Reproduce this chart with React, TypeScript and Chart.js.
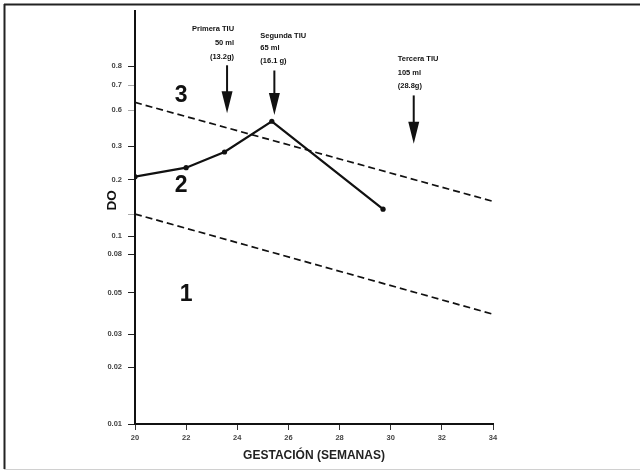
import React, { useEffect, useRef } from "react";
import { Chart, registerables } from "chart.js";

Chart.register(...registerables);

// ---- Data ----
const gestationWeeks = [20, 22, 23.5, 25.35, 29.7];
const doValues = [0.207, 0.231, 0.28, 0.408, 0.139];

const upperLimitWeeks = [20, 34];
const upperLimitDO = [0.514, 0.153];
const lowerLimitWeeks = [20, 34];
const lowerLimitDO = [0.131, 0.0384];

const xTickValues = [20, 22, 24, 26, 28, 30, 32, 34];
const xTickLabels = ["20", "22", "24", "26", "28", "30", "32", "34"];

const yTickValues = [0.01, 0.02, 0.03, 0.05, 0.08, 0.1, 0.13, 0.2, 0.3, 0.468, 0.634, 0.8];
const yTickLabels = ["0.01", "0.02", "0.03", "0.05", "0.08", "0.1", "", "0.2", "0.3", "0.6", "0.7", "0.8"];
const yLightTicks = [0.13, 0.468, 0.634];

const arrowWeeks = [23.6, 25.45, 30.9];
const arrowTopDO = [0.81, 0.76, 0.56];
const arrowTipDO = [0.45, 0.44, 0.31];
const arrowTexts = [
  ["Primera TIU", "50 ml", "(13.2g)"],
  ["Segunda TIU", "65 ml", "(16.1 g)"],
  ["Tercera TIU", "105 ml", "(28.8g)"],
];

const zoneLabels = ["3", "2", "1"];
const zoneWeeks = [21.8, 21.8, 22.0];
const zoneDO = [0.56, 0.185, 0.049];

const xTitle = "GESTACIÓN (SEMANAS)";
const yTitle = "DO";

// ---- Styles (not data) ----
const FONT = "'Liberation Sans', Arial, sans-serif";
const arrowTextAlign: CanvasTextAlign[] = ["right", "left", "left"];
const arrowTextDx = [7, -14, -16];
const arrowTextLastDy = [-8, -10, -9];
const arrowTextSpacing = [14, 12.5, 13.5];

const annotationsPlugin = {
  id: "annotations",
  afterDraw(chart: any) {
    const { ctx, scales, chartArea } = chart;
    const xs = scales.x;
    const ys = scales.y;
    ctx.save();

    // frame
    ctx.strokeStyle = "#222";
    ctx.lineWidth = 2;
    ctx.beginPath();
    ctx.moveTo(4, 4.5);
    ctx.lineTo(640, 4.5);
    ctx.moveTo(4.5, 4);
    ctx.lineTo(4.5, 469);
    ctx.stroke();
    ctx.strokeStyle = "#d0d0d0";
    ctx.lineWidth = 1;
    ctx.beginPath();
    ctx.moveTo(4, 469.5);
    ctx.lineTo(640, 469.5);
    ctx.stroke();

    // arrows
    ctx.fillStyle = "#111";
    ctx.strokeStyle = "#111";
    arrowWeeks.forEach((w, i) => {
      const x = xs.getPixelForValue(w);
      const yTop = ys.getPixelForValue(arrowTopDO[i]);
      const yTip = ys.getPixelForValue(arrowTipDO[i]);
      const headH = 22;
      ctx.lineWidth = 2;
      ctx.beginPath();
      ctx.moveTo(x, yTop);
      ctx.lineTo(x, yTip - headH + 2);
      ctx.stroke();
      ctx.beginPath();
      ctx.moveTo(x - 5.5, yTip - headH);
      ctx.lineTo(x + 5.5, yTip - headH);
      ctx.lineTo(x, yTip);
      ctx.closePath();
      ctx.fill();

      ctx.font = `bold 7.5px ${FONT}`;
      ctx.textAlign = arrowTextAlign[i];
      ctx.textBaseline = "middle";
      const lines = arrowTexts[i];
      lines.forEach((t, j) => {
        const yy = yTop + arrowTextLastDy[i] - (lines.length - 1 - j) * arrowTextSpacing[i];
        ctx.fillText(t, x + arrowTextDx[i], yy);
      });
    });

    // zone labels
    ctx.font = `bold 23px ${FONT}`;
    ctx.textAlign = "center";
    ctx.textBaseline = "middle";
    zoneLabels.forEach((t, i) => {
      ctx.fillText(t, xs.getPixelForValue(zoneWeeks[i]), ys.getPixelForValue(zoneDO[i]));
    });

    // y title
    ctx.save();
    ctx.translate(chartArea.left - 23, ys.getPixelForValue(0.155));
    ctx.rotate(-Math.PI / 2);
    ctx.font = `bold 13.5px ${FONT}`;
    ctx.textAlign = "center";
    ctx.textBaseline = "middle";
    ctx.fillText(yTitle, 0, 0);
    ctx.restore();

    ctx.restore();
  },
};

export default function App() {
  const ref = useRef<HTMLCanvasElement>(null);

  useEffect(() => {
    const canvas = ref.current;
    if (!canvas) return;
    const chart = new Chart(canvas, {
      type: "scatter",
      data: {
        datasets: [
          {
            label: "DO",
            data: gestationWeeks.map((w, i) => ({ x: w, y: doValues[i] })),
            showLine: true,
            borderColor: "#111",
            backgroundColor: "#111",
            borderWidth: 2.2,
            pointRadius: 2.6,
            pointBackgroundColor: "#111",
            pointBorderWidth: 0,
          },
          {
            label: "Límite superior",
            data: upperLimitWeeks.map((w, i) => ({ x: w, y: upperLimitDO[i] })),
            showLine: true,
            borderColor: "#111",
            borderWidth: 1.7,
            borderDash: [7, 4],
            pointRadius: 0,
          },
          {
            label: "Límite inferior",
            data: lowerLimitWeeks.map((w, i) => ({ x: w, y: lowerLimitDO[i] })),
            showLine: true,
            borderColor: "#111",
            borderWidth: 1.7,
            borderDash: [7, 4],
            pointRadius: 0,
          },
        ],
      },
      options: {
        responsive: false,
        animation: false,
        layout: { padding: { left: 0, right: 147, top: 6, bottom: 0 } },
        plugins: {
          legend: { display: false },
          tooltip: { enabled: false },
        },
        scales: {
          x: {
            type: "linear",
            min: 20,
            max: 34,
            position: "bottom",
            border: { color: "#111", width: 2 },
            grid: { drawOnChartArea: false, tickLength: 6, color: "#333", lineWidth: 1 },
            afterBuildTicks: (s: any) => {
              s.ticks = xTickValues.map((v) => ({ value: v }));
            },
            ticks: {
              autoSkip: false,
              maxRotation: 0,
              padding: 3,
              color: "#444",
              font: { family: FONT, size: 7.5, weight: "bold" },
              callback: (v: any) => {
                const i = xTickValues.indexOf(Number(v));
                return i >= 0 ? xTickLabels[i] : "";
              },
            },
            title: {
              display: true,
              text: xTitle,
              color: "#222",
              font: { family: FONT, size: 12, weight: "bold" },
              padding: { top: 4, bottom: 10 },
            },
            afterFit: (s: any) => {
              s.height = 49;
            },
          },
          y: {
            type: "logarithmic",
            min: 0.01,
            max: 1.585,
            border: { color: "#111", width: 2 },
            grid: {
              drawOnChartArea: false,
              tickLength: 7,
              lineWidth: 1,
              color: (c: any) => (c.tick && yLightTicks.includes(c.tick.value) ? "#aaa" : "#222"),
            },
            afterBuildTicks: (s: any) => {
              s.ticks = yTickValues.map((v) => ({ value: v }));
            },
            ticks: {
              autoSkip: false,
              padding: 6,
              color: "#444",
              font: { family: FONT, size: 7.5, weight: "bold" },
              callback: (v: any) => {
                const i = yTickValues.indexOf(Number(v));
                return i >= 0 ? yTickLabels[i] : "";
              },
            },
            afterFit: (s: any) => {
              s.width = 135;
            },
          },
        },
      },
      plugins: [annotationsPlugin],
    } as any);
    return () => chart.destroy();
  }, []);

  return (
    <div style={{ position: "fixed", left: 0, top: 0, width: 640, height: 473, background: "#fff" }}>
      <canvas ref={ref} width={640} height={473} style={{ width: 640, height: 473, display: "block" }} />
    </div>
  );
}
